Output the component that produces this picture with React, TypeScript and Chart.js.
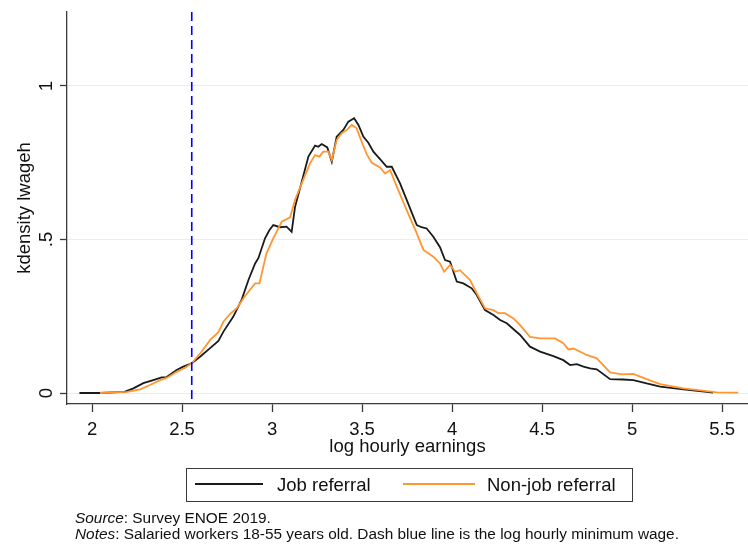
import React, { useEffect, useRef } from "react";
import { Chart, registerables } from "chart.js";

Chart.register(...registerables);

// Kernel density of log hourly earnings, job referral vs non-job referral
const jobReferralX = [
  1.93, 2.04, 2.12, 2.18, 2.23, 2.285, 2.34, 2.387, 2.415, 2.47, 2.507, 2.554,
  2.6, 2.656, 2.702, 2.73, 2.785, 2.832, 2.869, 2.906, 2.924, 2.961, 2.985,
  3.007, 3.044, 3.081, 3.109, 3.128, 3.165, 3.202, 3.239, 3.257, 3.276, 3.307,
  3.332, 3.359, 3.396, 3.424, 3.456, 3.48, 3.507, 3.535, 3.563, 3.6, 3.637,
  3.665, 3.711, 3.748, 3.804, 3.83, 3.859, 3.896, 3.933, 3.961, 3.989, 4.026,
  4.063, 4.109, 4.137, 4.183, 4.23, 4.267, 4.304, 4.378, 4.433, 4.489, 4.563,
  4.618, 4.656, 4.693, 4.73, 4.767, 4.804, 4.878, 4.95, 5.007, 5.081, 5.156,
  5.285, 5.415, 5.45,
];
const jobReferralDensity = [
  0, 0, 0.002, 0.004, 0.015, 0.032, 0.042, 0.051, 0.052, 0.075, 0.086, 0.097,
  0.118, 0.146, 0.17, 0.2, 0.249, 0.305, 0.368, 0.422, 0.439, 0.504, 0.53,
  0.547, 0.54, 0.542, 0.525, 0.607, 0.688, 0.77, 0.806, 0.802, 0.811, 0.8,
  0.753, 0.835, 0.857, 0.884, 0.895, 0.873, 0.835, 0.815, 0.786, 0.762, 0.737,
  0.737, 0.683, 0.629, 0.547, 0.54, 0.536, 0.509, 0.475, 0.433, 0.428, 0.363,
  0.357, 0.341, 0.319, 0.27, 0.254, 0.238, 0.227, 0.189, 0.151, 0.135, 0.12,
  0.107, 0.091, 0.094, 0.086, 0.08, 0.077, 0.045, 0.044, 0.042, 0.031, 0.021,
  0.012, 0.004, 0.001,
];

const nonJobReferralX = [
  2.044, 2.12, 2.196, 2.267, 2.322, 2.378, 2.415, 2.47, 2.517, 2.554, 2.609,
  2.656, 2.702, 2.73, 2.767, 2.804, 2.85, 2.906, 2.93, 2.969, 3.007, 3.054,
  3.1, 3.128, 3.165, 3.211, 3.239, 3.263, 3.285, 3.313, 3.332, 3.359, 3.387,
  3.415, 3.443, 3.47, 3.498, 3.526, 3.554, 3.6, 3.628, 3.656, 3.693, 3.748,
  3.804, 3.841, 3.896, 3.933, 3.956, 3.989, 4.017, 4.044, 4.1, 4.137, 4.183,
  4.23, 4.258, 4.294, 4.341, 4.378, 4.433, 4.489, 4.572, 4.618, 4.646, 4.674,
  4.748, 4.804, 4.878, 4.943, 5.007, 5.081, 5.156, 5.285, 5.415, 5.47, 5.59,
];
const nonJobReferralDensity = [
  0, 0.002, 0.004, 0.012, 0.026, 0.042, 0.049, 0.069, 0.082, 0.097, 0.135,
  0.173, 0.198, 0.232, 0.258, 0.276, 0.316, 0.357, 0.357, 0.455, 0.504, 0.558,
  0.572, 0.629, 0.683, 0.748, 0.775, 0.77, 0.786, 0.786, 0.759, 0.824, 0.846,
  0.857, 0.873, 0.862, 0.818, 0.778, 0.75, 0.735, 0.715, 0.726, 0.672, 0.596,
  0.52, 0.466, 0.444, 0.422, 0.395, 0.417, 0.395, 0.4, 0.368, 0.325, 0.276,
  0.27, 0.26, 0.26, 0.243, 0.221, 0.183, 0.178, 0.178, 0.162, 0.142, 0.145,
  0.124, 0.113, 0.067, 0.061, 0.062, 0.045, 0.029, 0.015, 0.006, 0.002, 0.001,
];

// log hourly minimum wage (dashed reference line)
const logMinWage = 2.554;

const xTickValues = [2, 2.5, 3, 3.5, 4, 4.5, 5, 5.5];
const xTickLabels = ["2", "2.5", "3", "3.5", "4", "4.5", "5", "5.5"];
const yTickValues = [0, 0.5, 1];
const yTickLabels = ["0", ".5", "1"];

const seriesNames = ["Job referral", "Non-job referral"];
const seriesColors = ["#1a1a1a", "#ff9632"];

const X_MIN = 1.861;
const X_MAX = 5.644;
const Y_MIN = -0.0358;
const Y_MAX = 1.241;

const FONT = "Arial, 'Liberation Sans', sans-serif";
const AXIS_COLOR = "#3a3a3a";

export default function App() {
  const canvasRef = useRef<HTMLCanvasElement | null>(null);

  useEffect(() => {
    const canvas = canvasRef.current;
    if (!canvas) return;

    const toPoints = (xs: number[], ys: number[]) =>
      xs.map((x, i) => ({ x, y: ys[i] }));

    const chart = new Chart(canvas, {
      type: "line",
      data: {
        datasets: [
          {
            label: seriesNames[0],
            data: toPoints(jobReferralX, jobReferralDensity),
            borderColor: seriesColors[0],
            borderWidth: 1.8,
            pointRadius: 0,
            tension: 0,
            order: 3,
          },
          {
            label: seriesNames[1],
            data: toPoints(nonJobReferralX, nonJobReferralDensity),
            borderColor: seriesColors[1],
            borderWidth: 1.8,
            pointRadius: 0,
            tension: 0,
            order: 2,
          },
          {
            label: "Minimum wage",
            data: [
              { x: logMinWage, y: Y_MAX },
              { x: logMinWage, y: Y_MIN },
            ],
            borderColor: "#0000ff",
            borderWidth: 1.6,
            borderDash: [9, 5],
            pointRadius: 0,
            order: 1,
          },
        ],
      },
      options: {
        animation: false,
        responsive: false,
        devicePixelRatio: 1,
        events: [],
        layout: { padding: { left: 0, top: 12, right: 0, bottom: 86 } },
        plugins: {
          legend: { display: false },
          tooltip: { enabled: false },
        },
        scales: {
          x: {
            type: "linear",
            min: X_MIN,
            max: X_MAX,
            afterBuildTicks: (scale: any) => {
              scale.ticks = xTickValues.map((v) => ({ value: v }));
            },
            afterFit: (scale: any) => {
              scale.height = 56;
              scale.paddingLeft = 0;
              scale.paddingRight = 0;
            },
            ticks: {
              autoSkip: false,
              maxRotation: 0,
              minRotation: 0,
              padding: 7,
              color: "#111",
              font: { family: FONT, size: 18.5 },
              callback: (value: any) => {
                const i = xTickValues.indexOf(Number(value));
                return i >= 0 ? xTickLabels[i] : "";
              },
            },
            grid: {
              drawOnChartArea: false,
              drawTicks: true,
              tickLength: 8,
              tickColor: AXIS_COLOR,
              tickWidth: 1.3,
            },
            border: { display: true, color: AXIS_COLOR, width: 1.3 },
            title: {
              display: true,
              text: "log hourly earnings",
              color: "#111",
              font: { family: FONT, size: 18.5 },
              padding: { top: 0, bottom: 2 },
            },
          },
          y: {
            type: "linear",
            min: Y_MIN,
            max: Y_MAX,
            afterBuildTicks: (scale: any) => {
              scale.ticks = yTickValues.map((v) => ({ value: v }));
            },
            afterFit: (scale: any) => {
              scale.width = 67;
              scale.paddingTop = 0;
              scale.paddingBottom = 0;
            },
            ticks: {
              autoSkip: false,
              minRotation: 90,
              maxRotation: 90,
              crossAlign: "center",
              padding: 5,
              color: "#111",
              font: { family: FONT, size: 18.5 },
              callback: (value: any) => {
                const i = yTickValues.indexOf(Number(value));
                return i >= 0 ? yTickLabels[i] : "";
              },
            },
            grid: {
              color: "#e6eef0",
              lineWidth: 1,
              drawTicks: true,
              tickLength: 7,
              tickColor: AXIS_COLOR,
              tickWidth: 1.3,
            },
            border: { display: true, color: AXIS_COLOR, width: 1.3 },
            title: {
              display: true,
              text: "kdensity lwageh",
              color: "#111",
              font: { family: FONT, size: 18.5 },
              padding: { top: 14, bottom: 0 },
            },
          },
        },
      },
    } as any);

    return () => chart.destroy();
  }, []);

  const legendText: React.CSSProperties = {
    position: "absolute",
    top: 0,
    height: 34,
    lineHeight: "32px",
    fontFamily: FONT,
    fontSize: 18.5,
    color: "#111",
    whiteSpace: "nowrap",
  };
  const swatch = (left: number, width: number, color: string): React.CSSProperties => ({
    position: "absolute",
    left,
    top: 14,
    width,
    height: 2,
    background: color,
  });
  const noteLine = (top: number): React.CSSProperties => ({
    position: "absolute",
    left: 75,
    top,
    height: 16,
    lineHeight: "16px",
    fontFamily: FONT,
    fontSize: 15.4,
    color: "#111",
    whiteSpace: "nowrap",
  });

  return (
    <div
      style={{
        position: "fixed",
        left: 0,
        top: 0,
        width: 748,
        height: 546,
        background: "#fff",
      }}
    >
      <canvas
        ref={canvasRef}
        width={748}
        height={546}
        style={{ position: "absolute", left: 0, top: 0, width: 748, height: 546 }}
      />
      <div
        style={{
          position: "absolute",
          left: 186,
          top: 468,
          width: 445,
          height: 32,
          border: "1px solid #3a3a3a",
          background: "#fff",
        }}
      >
        <div style={swatch(8, 68, seriesColors[0])} />
        <div style={{ ...legendText, left: 90 }}>{seriesNames[0]}</div>
        <div style={swatch(216, 72, seriesColors[1])} />
        <div style={{ ...legendText, left: 300 }}>{seriesNames[1]}</div>
      </div>
      <div style={noteLine(510)}>
        <i>Source</i>: Survey ENOE 2019.
      </div>
      <div style={noteLine(526)}>
        <i>Notes</i>: Salaried workers 18-55 years old. Dash blue line is the log
        hourly minimum wage.
      </div>
    </div>
  );
}
